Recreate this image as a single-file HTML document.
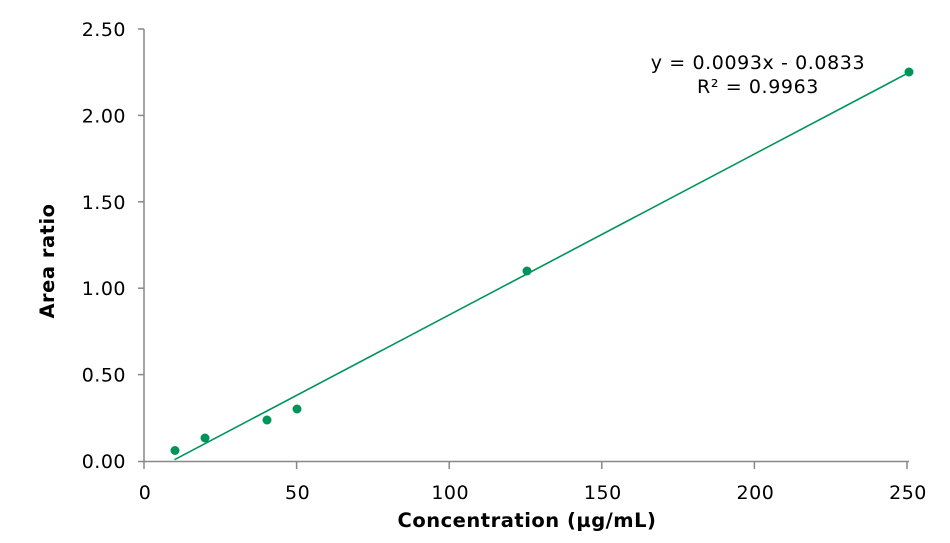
<!DOCTYPE html>
<html><head><style>body{margin:0;background:#fff}svg{display:block}</style></head><body>
<svg width="950" height="543" xmlns="http://www.w3.org/2000/svg" font-family="DejaVu Sans, Verdana, sans-serif">
<g stroke="#888" stroke-width="1.5" fill="none">
<line x1="144" y1="29" x2="144" y2="462"/>
<line x1="138" y1="461.5" x2="909" y2="461.5"/>
<line x1="138" y1="29" x2="144" y2="29"/>
<line x1="138" y1="115.4" x2="144" y2="115.4"/>
<line x1="138" y1="201.8" x2="144" y2="201.8"/>
<line x1="138" y1="288.2" x2="144" y2="288.2"/>
<line x1="138" y1="374.6" x2="144" y2="374.6"/>
<line x1="144" y1="461" x2="144" y2="469"/>
<line x1="296.6" y1="461" x2="296.6" y2="469"/>
<line x1="449.2" y1="461" x2="449.2" y2="469"/>
<line x1="601.8" y1="461" x2="601.8" y2="469"/>
<line x1="754.4" y1="461" x2="754.4" y2="469"/>
<line x1="907" y1="461" x2="907" y2="469"/>
</g>
<g font-size="19" fill="#000" text-anchor="end" letter-spacing="0.5">
<text x="126" y="36">2.50</text>
<text x="126" y="122.4">2.00</text>
<text x="126" y="208.8">1.50</text>
<text x="126" y="295.2">1.00</text>
<text x="126" y="381.6">0.50</text>
<text x="126" y="468">0.00</text>
</g>
<g font-size="19" fill="#000" text-anchor="middle" letter-spacing="0.5">
<text x="145" y="499">0</text>
<text x="297.6" y="499">50</text>
<text x="450.2" y="499">100</text>
<text x="602.8" y="499">150</text>
<text x="755.4" y="499">200</text>
<text x="908" y="499">250</text>
</g>
<text x="527" y="527" font-size="19.5" font-weight="bold" text-anchor="middle" letter-spacing="0.5">Concentration (µg/mL)</text>
<text transform="translate(54,261) rotate(-90)" font-size="19.5" font-weight="bold" text-anchor="middle" letter-spacing="0.5">Area ratio</text>
<line x1="174.5" y1="459.7" x2="907" y2="73.6" stroke="#00945a" stroke-width="1.6"/>
<g fill="#00945a">
<circle cx="175" cy="450.5" r="4.5"/>
<circle cx="205" cy="438" r="4.5"/>
<circle cx="267" cy="420" r="4.5"/>
<circle cx="297" cy="409" r="4.5"/>
<circle cx="527" cy="271" r="4.5"/>
<circle cx="909" cy="72" r="4.5"/>
</g>
<text x="758" y="69" font-size="19" text-anchor="middle" letter-spacing="0.6">y = 0.0093x - 0.0833</text>
<text x="758" y="93" font-size="19" text-anchor="middle" letter-spacing="0.6">R² = 0.9963</text>
</svg>
</body></html>
